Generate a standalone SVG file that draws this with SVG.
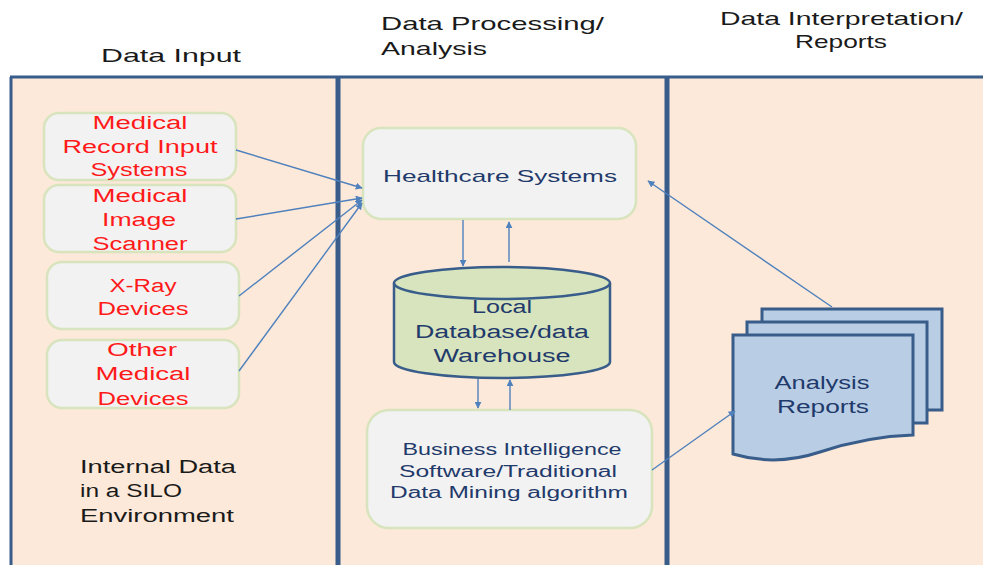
<svg xmlns="http://www.w3.org/2000/svg" width="983" height="565" viewBox="0 0 983 565">
<style>
text{font-family:"Liberation Sans",Arial,sans-serif}
.title{font-size:19px;fill:#1a1a1a}
.red{font-size:18px;fill:#ff1a1a;text-anchor:middle}
.blue{font-size:17px;fill:#1f3a6b;text-anchor:middle}
.blk{font-size:18px;fill:#1a1a1a}
.box{fill:#f2f2f2;stroke:#d7e4bd;stroke-width:2.5}
.conn{stroke:#4f81bd;stroke-width:1.4;fill:none}
.doc{fill:#b9cde5;stroke:#385d8a;stroke-width:3}
</style>
<defs>
<marker id="ah" viewBox="0 0 10 10" refX="9" refY="5" markerWidth="7" markerHeight="7" orient="auto" markerUnits="userSpaceOnUse">
<path d="M0,0 L10,5 L0,10 z" fill="#4f81bd"/>
</marker>
</defs>
<rect width="983" height="565" fill="#ffffff"/>
<g id="panels">
<rect x="10" y="77" width="990" height="500" fill="#fde9d9"/>
<line x1="10" y1="77" x2="983" y2="77" stroke="#385d8a" stroke-width="3"/>
<line x1="11" y1="77" x2="11" y2="565" stroke="#385d8a" stroke-width="3"/>
<line x1="338" y1="77" x2="338" y2="565" stroke="#385d8a" stroke-width="5"/>
<line x1="667" y1="77" x2="667" y2="565" stroke="#385d8a" stroke-width="5"/>
</g>
<g id="titles">
<text class="title" x="101" y="62" textLength="140" lengthAdjust="spacingAndGlyphs">Data Input</text>
<text class="title" x="381" y="30" textLength="223" lengthAdjust="spacingAndGlyphs">Data Processing/</text>
<text class="title" x="381" y="55" textLength="106" lengthAdjust="spacingAndGlyphs">Analysis</text>
<text class="title" x="720" y="25" textLength="243" lengthAdjust="spacingAndGlyphs">Data Interpretation/</text>
<text class="title" x="795" y="48" textLength="92" lengthAdjust="spacingAndGlyphs">Reports</text>
</g>
<g id="node-mris">
<rect class="box" x="44" y="113" width="192" height="67" rx="15"/>
<text class="red" x="140" y="129" textLength="95" lengthAdjust="spacingAndGlyphs">Medical</text>
<text class="red" x="140" y="153" textLength="155" lengthAdjust="spacingAndGlyphs">Record Input</text>
<text class="red" x="139" y="176" textLength="97" lengthAdjust="spacingAndGlyphs">Systems</text>
</g>
<g id="node-mis">
<rect class="box" x="44" y="185" width="192" height="67" rx="15"/>
<text class="red" x="140" y="202" textLength="95" lengthAdjust="spacingAndGlyphs">Medical</text>
<text class="red" x="139" y="226" textLength="74" lengthAdjust="spacingAndGlyphs">Image</text>
<text class="red" x="140" y="250" textLength="95" lengthAdjust="spacingAndGlyphs">Scanner</text>
</g>
<g id="node-xray">
<rect class="box" x="47" y="262" width="192" height="67" rx="15"/>
<text class="red" x="143" y="292" textLength="67" lengthAdjust="spacingAndGlyphs">X-Ray</text>
<text class="red" x="143" y="315" textLength="91" lengthAdjust="spacingAndGlyphs">Devices</text>
</g>
<g id="node-other">
<rect class="box" x="47" y="340" width="192" height="68" rx="15"/>
<text class="red" x="142" y="356" textLength="70" lengthAdjust="spacingAndGlyphs">Other</text>
<text class="red" x="143" y="380" textLength="95" lengthAdjust="spacingAndGlyphs">Medical</text>
<text class="red" x="143" y="405" textLength="91" lengthAdjust="spacingAndGlyphs">Devices</text>
</g>
<g id="label-internal">
<text class="blk" x="80" y="473" textLength="156" lengthAdjust="spacingAndGlyphs">Internal Data</text>
<text class="blk" x="80" y="497" textLength="102" lengthAdjust="spacingAndGlyphs">in a SILO</text>
<text class="blk" x="80" y="522" textLength="154" lengthAdjust="spacingAndGlyphs">Environment</text>
</g>
<g id="node-hs">
<rect class="box" x="363" y="128" width="273" height="91" rx="18"/>
<text class="blue" x="500" y="182" textLength="234" lengthAdjust="spacingAndGlyphs">Healthcare Systems</text>
</g>
<g id="node-db">
<path d="M394,283 V362 A108,16 0 0 0 610,362 V283" fill="#d7e4bd" stroke="#385d8a" stroke-width="2.5"/>
<ellipse cx="502" cy="283" rx="108" ry="16" fill="#d7e4bd" stroke="#385d8a" stroke-width="2.5"/>
<text class="blue" x="502" y="313" font-size="18" style="font-size:18px" textLength="60" lengthAdjust="spacingAndGlyphs">Local</text>
<text class="blue" x="502" y="338" style="font-size:18px" textLength="174" lengthAdjust="spacingAndGlyphs">Database/data</text>
<text class="blue" x="502" y="362" style="font-size:18px" textLength="137" lengthAdjust="spacingAndGlyphs">Warehouse</text>
</g>
<g id="node-bi">
<rect class="box" x="367" y="410" width="285" height="118" rx="22"/>
<text class="blue" x="512" y="455" style="font-size:16px" textLength="219" lengthAdjust="spacingAndGlyphs">Business Intelligence</text>
<text class="blue" x="508" y="477" style="font-size:16px" textLength="218" lengthAdjust="spacingAndGlyphs">Software/Traditional</text>
<text class="blue" x="509" y="498" style="font-size:16px" textLength="238" lengthAdjust="spacingAndGlyphs">Data Mining algorithm</text>
</g>
<g id="node-reports">
<rect class="doc" x="762" y="309" width="180" height="101"/>
<rect class="doc" x="747" y="322" width="180" height="101"/>
<path class="doc" d="M733,335 H913 V435 C880,436 850,442 820,452 C790,462 760,462 733,454 Z"/>
<text class="blue" x="822" y="389" style="font-size:18px" textLength="95" lengthAdjust="spacingAndGlyphs">Analysis</text>
<text class="blue" x="823" y="413" style="font-size:18px" textLength="92" lengthAdjust="spacingAndGlyphs">Reports</text>
</g>
<g id="connectors">
<line class="conn" x1="236" y1="150" x2="362" y2="188" marker-end="url(#ah)"/>
<line class="conn" x1="236" y1="219" x2="362" y2="198" marker-end="url(#ah)"/>
<line class="conn" x1="239" y1="296" x2="362" y2="200" marker-end="url(#ah)"/>
<line class="conn" x1="239" y1="371" x2="362" y2="203" marker-end="url(#ah)"/>
<line class="conn" x1="463" y1="220" x2="463" y2="266" marker-end="url(#ah)"/>
<line class="conn" x1="509" y1="262" x2="509" y2="222" marker-end="url(#ah)"/>
<line class="conn" x1="478" y1="379" x2="478" y2="408" marker-end="url(#ah)"/>
<line class="conn" x1="510" y1="410" x2="510" y2="380" marker-end="url(#ah)"/>
<line class="conn" x1="652" y1="470" x2="735" y2="411" marker-end="url(#ah)"/>
<line class="conn" x1="832" y1="307" x2="648" y2="181" marker-end="url(#ah)"/>
</g>
</svg>
